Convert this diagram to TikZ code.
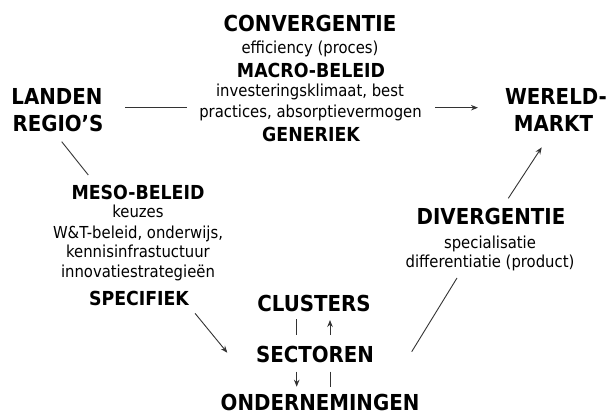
\documentclass[tikz,border=0pt]{standalone}
\usepackage{fontspec}
\setmainfont{DejaVu Sans Condensed}
\usetikzlibrary{arrows.meta}
\begin{document}
\begin{tikzpicture}[x=1pt,y=-1pt,
  big/.style={anchor=base,inner sep=0pt,font=\bfseries\fontsize{22}{24}\selectfont},
  mid/.style={anchor=base,inner sep=0pt,font=\bfseries\fontsize{19.3}{22}\selectfont},
  txt/.style={anchor=base,inner sep=0pt,font=\fontsize{16.5}{20}\selectfont},
  ln/.style={line width=0.9pt,draw=black!80},
  arr/.style={ln,-{Stealth[length=7pt,width=5.5pt]}}]
\useasboundingbox (0,0) rectangle (610,414);
% top block
\node[big] (conv) at (310,31.7) {CONVERGENTIE};
\node[txt] (eff) at (310,54) {efficiency (proces)};
\node[mid] (macro) at (311,77.3) {MACRO-BELEID};
\node[txt] (inv) at (310,96.7) {investeringsklimaat, best};
\node[txt] (prac) at (310.5,117.3) {practices, absorptievermogen};
\node[mid] (gen) at (311,141.7) {GENERIEK};
% left / right
\node[big] (landen) at (57,105) {LANDEN};
\node[big] (regio) at (58,131.7) {REGIO'S};
\node[big] (wereld) at (556,105) {WERELD-};
\node[big] (markt) at (553.5,131.7) {MARKT};
% meso
\node[mid] (meso) at (138,200) {MESO-BELEID};
\node[txt] (keuzes) at (138,218) {keuzes};
\node[txt] (wt) at (138,238) {W\&T-beleid, onderwijs,};
\node[txt] (kennis) at (138,257.5) {kennisinfrastuctuur};
\node[txt] (innov) at (138,277) {innovatiestrategieën};
\node[mid] (spec) at (139,305) {SPECIFIEK};
% divergentie
\node[big] (div) at (491,225) {DIVERGENTIE};
\node[txt] (spl) at (490,248) {specialisatie};
\node[txt] (diff) at (490,267) {differentiatie (product)};
% bottom
\node[big] (clus) at (314,311.7) {CLUSTERS};
\node[big] (sect) at (315,362.7) {SECTOREN};
\node[big] (onder) at (320,410) {ONDERNEMINGEN};
% connector coordinates
\coordinate (t1) at (125,107.7); \coordinate (t2) at (187,107.7);
\coordinate (t3) at (435,107.7); \coordinate (t4) at (478,107.7);
\coordinate (d1) at (61.7,141.7); \coordinate (d2) at (88.3,175);
\coordinate (s1) at (195,313.3); \coordinate (s2) at (227.3,352.7);
\coordinate (r1) at (411.7,351.7); \coordinate (r2) at (457,278);
\coordinate (u1) at (508.3,198.3); \coordinate (u2) at (541.7,147.3);
\coordinate (a1) at (296.7,319); \coordinate (a2) at (296.7,335);
\coordinate (b1) at (330,335); \coordinate (b2) at (330,320);
\coordinate (c1) at (296.7,371.7); \coordinate (c2) at (296.7,386.7);
\coordinate (e1) at (330,371.7); \coordinate (e2) at (330,386.7);
\draw[ln] (t1) -- (t2);
\draw[arr] (t3) -- (t4);
\draw[ln] (d1) -- (d2);
\draw[arr] (s1) -- (s2);
\draw[ln] (r1) -- (r2);
\draw[arr] (u1) -- (u2);
\draw[ln] (a1) -- (a2);
\draw[arr] (b1) -- (b2);
\draw[arr] (c1) -- (c2);
\draw[ln] (e1) -- (e2);
\end{tikzpicture}
\end{document}
